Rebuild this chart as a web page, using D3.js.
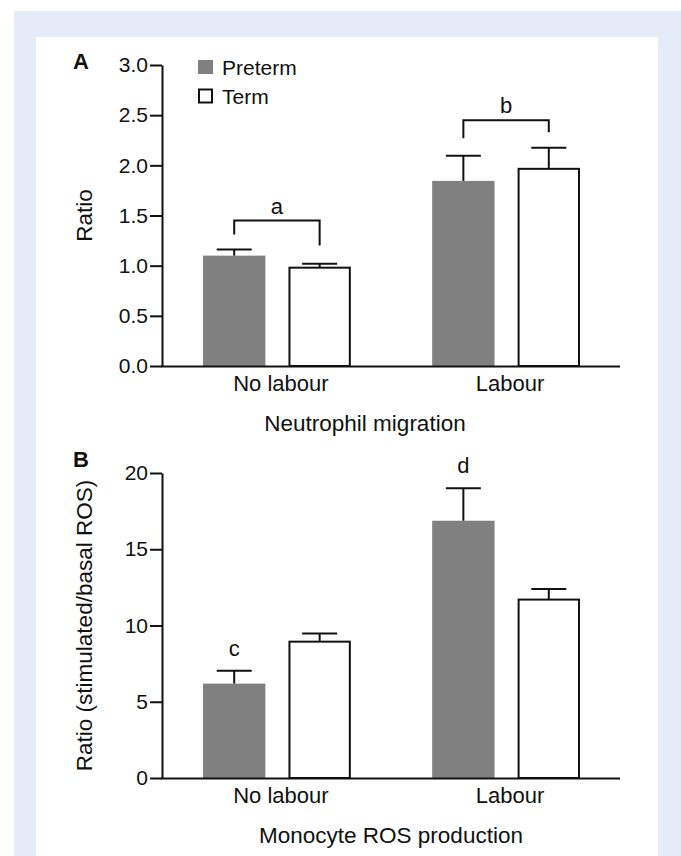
<!DOCTYPE html>
<html>
<head>
<meta charset="utf-8">
<script src="https://cdn.jsdelivr.net/npm/d3@7"></script>
<style>
body { margin: 0; background: #fff; }
text { font-family: "Liberation Sans", Arial, sans-serif; fill: #111; }
</style>
</head>
<body>
<div id="main"></div>
<script>
var groups = ['No labour', 'Labour'];
var series = ['Preterm', 'Term'];

// A - neutrophil migration (mean, SEM)
var migPreterm = [1.10, 1.845];
var migTerm = [0.98, 1.965];
var migPretermSem = [0.06, 0.25];
var migTermSem = [0.04, 0.21];
var migTicks = [0, 0.5, 1.0, 1.5, 2.0, 2.5, 3.0];
var migBracketLabels = ['a', 'b'];
var migBracketTop = [1.45, 2.45];
var migBracketLeft = [1.31, 2.27];
var migBracketRight = [1.20, 2.33];

// B - monocyte ROS production (mean, SEM)
var rosPreterm = [6.19, 16.87];
var rosTerm = [8.94, 11.70];
var rosPretermSem = [0.85, 2.13];
var rosTermSem = [0.53, 0.70];
var rosTicks = [0, 5, 10, 15, 20];
var rosLetters = ['c', 'd'];

var width = 681,
    height = 856;

var colors = { 'Preterm': '#808080', 'Term': '#fff' };

var svg = d3.select('#main').append('svg')
    .attr('width', width)
    .attr('height', height);

svg.append('rect').attr('x', 14).attr('y', 11)
  .attr('width', width - 14).attr('height', height - 11)
  .attr('fill', '#e5ebf7');
svg.append('rect').attr('x', 36).attr('y', 37)
  .attr('width', 622).attr('height', height - 37)
  .attr('fill', '#fff');

var x0 = d3.scaleBand().domain(groups)
  .range([162, 621])
  .paddingInner(0.355)
  .paddingOuter(0.179);

var x1 = d3.scaleBand().domain(series)
  .range([0, x0.bandwidth()])
  .paddingInner(0.27);

function toRows(pre, term, preSem, termSem) {
  return groups.map(function(g, i) {
    return {
      group: g,
      bars: [
        { key: 'Preterm', value: pre[i], sem: preSem[i] },
        { key: 'Term', value: term[i], sem: termSem[i] }
      ]
    };
  });
}

function drawPanel(p) {
  var y = d3.scaleLinear().domain([0, p.max]).range([p.bottom, p.top]);
  var g = svg.append('g');

  // y axis
  var yAxis = d3.axisLeft(y)
    .tickValues(p.ticks)
    .tickFormat(d3.format(p.fmt))
    .tickSize(12)
    .tickSizeOuter(0)
    .tickPadding(2);
  var ya = g.append('g')
    .attr('transform', 'translate(162,0)')
    .call(yAxis);
  ya.selectAll('text').style('font-size', '21px').attr('fill', '#111');
  ya.selectAll('line, path').attr('stroke', '#111').attr('stroke-width', 2);

  // bars
  var grp = g.selectAll('.grp').data(p.rows)
    .enter().append('g')
      .attr('transform', function(d) { return 'translate(' + x0(d.group) + ',0)'; });

  grp.selectAll('.bar').data(function(d) { return d.bars; })
    .enter().append('rect')
      .attr('x', function(d) { return x1(d.key) + (d.key == 'Term' ? 1 : 0); })
      .attr('width', function(d) { return x1.bandwidth() - (d.key == 'Term' ? 2 : 0); })
      .attr('y', function(d) { return y(d.value); })
      .attr('height', function(d) { return p.bottom - y(d.value); })
      .attr('fill', function(d) { return colors[d.key]; })
      .attr('stroke', function(d) { return d.key == 'Term' ? '#111' : 'none'; })
      .attr('stroke-width', 2);

  // error bars
  var err = grp.selectAll('.err').data(function(d) { return d.bars; })
    .enter().append('g');
  err.append('line')
    .attr('x1', function(d) { return x1(d.key) + x1.bandwidth() / 2; })
    .attr('x2', function(d) { return x1(d.key) + x1.bandwidth() / 2; })
    .attr('y1', function(d) { return y(d.value); })
    .attr('y2', function(d) { return y(d.value + d.sem); })
    .attr('stroke', '#111').attr('stroke-width', 2);
  err.append('line')
    .attr('x1', function(d) { return x1(d.key) + x1.bandwidth() / 2 - 17.5; })
    .attr('x2', function(d) { return x1(d.key) + x1.bandwidth() / 2 + 17.5; })
    .attr('y1', function(d) { return y(d.value + d.sem); })
    .attr('y2', function(d) { return y(d.value + d.sem); })
    .attr('stroke', '#111').attr('stroke-width', 2);

  // x axis
  var xa = g.append('g')
    .attr('transform', 'translate(0,' + p.bottom + ')')
    .call(d3.axisBottom(x0).tickSize(0).tickSizeOuter(0).tickPadding(9));
  xa.select('.domain').attr('stroke', '#111').attr('stroke-width', 2).attr('d', 'M161,0.5H620');
  xa.selectAll('text').style('font-size', '22px').attr('fill', '#111').attr('dx', 4);

  // axis titles
  g.append('text')
    .attr('transform', 'translate(92,' + (p.top + p.bottom) / 2 + ') rotate(-90)')
    .attr('text-anchor', 'middle')
    .style('font-size', '22.5px')
    .text(p.ylabel);
  g.append('text')
    .attr('x', p.xlabelX)
    .attr('y', p.bottom + 65)
    .attr('text-anchor', 'middle')
    .style('font-size', '22.5px')
    .text(p.xlabel);

  g.append('text')
    .attr('x', 73)
    .attr('y', p.letterY)
    .style('font-size', '22px')
    .style('font-weight', 'bold')
    .text(p.letter);

  return y;
}

// Panel A
var yA = drawPanel({
  top: 65, bottom: 366, max: 3,
  ticks: migTicks, fmt: '.1f',
  rows: toRows(migPreterm, migTerm, migPretermSem, migTermSem),
  ylabel: 'Ratio', xlabel: 'Neutrophil migration', xlabelX: 365,
  letter: 'A', letterY: 69
});

var cx = function(g, s) { return x0(g) + x1(s) + x1.bandwidth() / 2; };

groups.forEach(function(gname, i) {
  var xl = cx(gname, 'Preterm'), xr = cx(gname, 'Term');
  svg.append('path')
    .attr('d', 'M' + xl + ',' + yA(migBracketLeft[i]) + 'V' + yA(migBracketTop[i]) +
               'H' + xr + 'V' + yA(migBracketRight[i]))
    .attr('fill', 'none').attr('stroke', '#111').attr('stroke-width', 2);
  svg.append('text')
    .attr('x', (xl + xr) / 2)
    .attr('y', yA(migBracketTop[i]) - 7)
    .attr('text-anchor', 'middle')
    .style('font-size', '22px')
    .text(migBracketLabels[i]);
});

// legend
var legend = svg.selectAll('.legend').data(series)
  .enter().append('g')
    .attr('transform', function(d, i) { return 'translate(198,' + (60 + i * 28.5) + ')'; });
legend.append('rect')
  .attr('x', function(d) { return d == 'Term' ? 1 : 0; })
  .attr('y', function(d) { return d == 'Term' ? 1 : 0; })
  .attr('width', function(d) { return d == 'Term' ? 13 : 15; })
  .attr('height', function(d) { return d == 'Term' ? 13 : 14; })
  .attr('fill', function(d) { return colors[d]; })
  .attr('stroke', function(d) { return d == 'Term' ? '#111' : 'none'; })
  .attr('stroke-width', 2);
legend.append('text')
  .attr('x', 24)
  .attr('y', 15)
  .style('font-size', '21px')
  .text(function(d) { return d; });

// Panel B
var yB = drawPanel({
  top: 473, bottom: 778, max: 20,
  ticks: rosTicks, fmt: 'd',
  rows: toRows(rosPreterm, rosTerm, rosPretermSem, rosTermSem),
  ylabel: 'Ratio (stimulated/basal ROS)', xlabel: 'Monocyte ROS production', xlabelX: 391,
  letter: 'B', letterY: 467
});
svg.selectAll('.sig').data(groups)
  .enter().append('text')
    .attr('x', function(d) { return cx(d, 'Preterm'); })
    .attr('y', function(d, i) { return yB(rosPreterm[i] + rosPretermSem[i]) - 15; })
    .attr('text-anchor', 'middle')
    .style('font-size', '22px')
    .text(function(d, i) { return rosLetters[i]; });
</script>
</body>
</html>
